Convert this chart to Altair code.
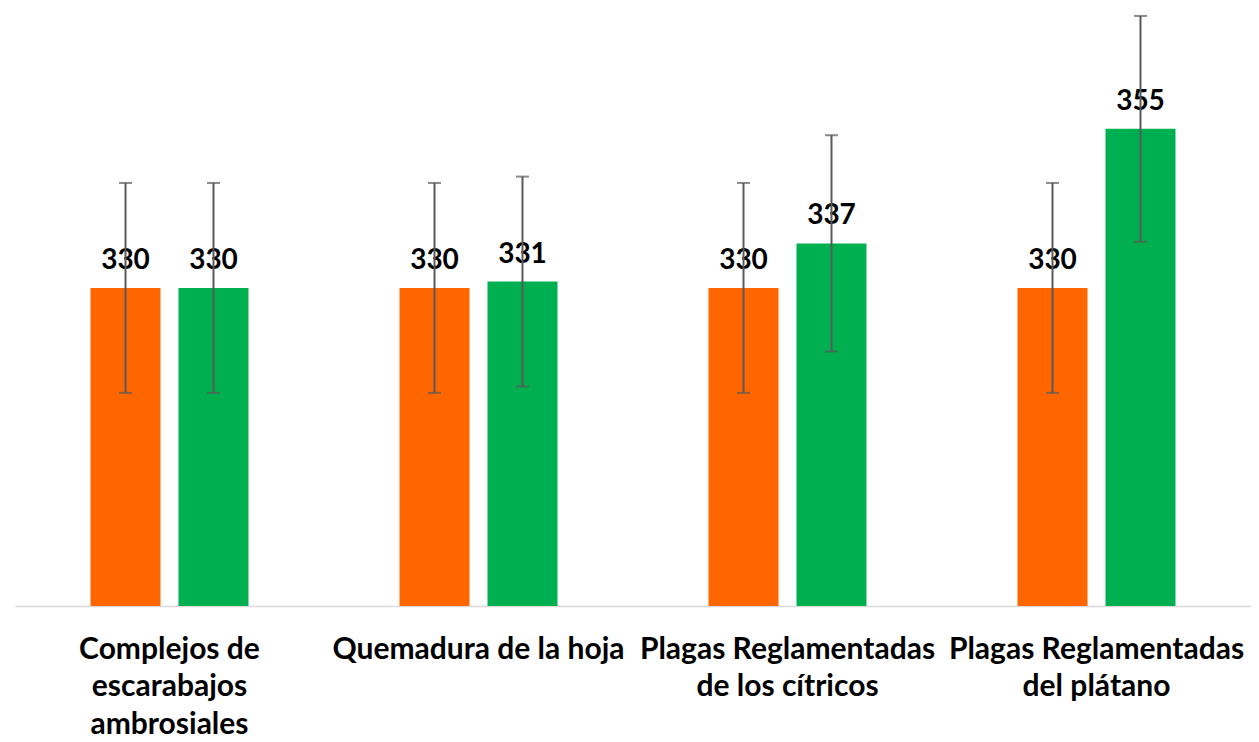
import altair as alt
import pandas as pd

categories = [
    "Complejos de\nescarabajos\nambrosiales",
    "Quemadura de la hoja",
    "Plagas Reglamentadas\nde los cítricos",
    "Plagas Reglamentadas\ndel plátano",
]
series = ["Serie 1", "Serie 2"]
values_s1 = [330, 330, 330, 330]
values_s2 = [330, 331, 337, 355]
err_s1 = [16.5, 16.5, 16.5, 16.5]
err_s2 = [16.5, 16.5, 17.0, 17.75]
colors = ["#FF6600", "#00B050"]

rows = []
for i, c in enumerate(categories):
    for s, vals, errs in ((series[0], values_s1, err_s1), (series[1], values_s2, err_s2)):
        rows.append({"cat": c, "serie": s, "value": vals[i],
                     "lo": vals[i] - errs[i], "hi": vals[i] + errs[i]})
df = pd.DataFrame(rows)

x = alt.X("cat:N", sort=categories, title=None,
          scale=alt.Scale(paddingInner=0.4887, paddingOuter=0.24435),
          axis=alt.Axis(labelAngle=0, ticks=False, domainColor="#D9D9D9", domainWidth=1.5,
                        labelFont="Lato", labelFontWeight="bold", labelFontSize=30,
                        labelColor="black", labelPadding=28, labelLineHeight=37.5,
                        labelLimit=500, labelOverlap=False,
                        labelExpr="split(datum.label, '\\n')"))
xo = alt.XOffset("serie:N", sort=series, scale=alt.Scale(paddingInner=0.2045, paddingOuter=0))
yscale = alt.Scale(domain=[280, 374], zero=False, nice=False)

base = alt.Chart(df)

bars = base.mark_bar().encode(
    x=x, xOffset=xo,
    y=alt.Y("value:Q", scale=yscale, axis=None),
    y2=alt.datum(280),
    color=alt.Color("serie:N", scale=alt.Scale(domain=series, range=colors), legend=None),
)

labels = base.mark_text(font="Lato", fontWeight="bold", fontSize=28, color="black",
                        baseline="alphabetic", dy=-19).encode(
    x=x, xOffset=xo, y=alt.Y("value:Q", scale=yscale), text=alt.Text("value:Q")
)

rules = base.mark_rule(color="#595959", strokeWidth=2).encode(
    x=x, xOffset=xo, y=alt.Y("lo:Q", scale=yscale), y2="hi:Q"
)
cap_hi = base.mark_tick(color="#595959", thickness=2, size=13).encode(
    x=x, xOffset=xo, y=alt.Y("hi:Q", scale=yscale)
)
cap_lo = base.mark_tick(color="#595959", thickness=2, size=13).encode(
    x=x, xOffset=xo, y=alt.Y("lo:Q", scale=yscale)
)

chart = alt.layer(bars, labels, rules, cap_hi, cap_lo).properties(
    width=1236, height=598,
    padding={"left": 7, "top": 0, "right": 0, "bottom": 0},
).configure_view(stroke=None)

chart.save("out.html", embed_options={"renderer": "svg", "actions": False})
